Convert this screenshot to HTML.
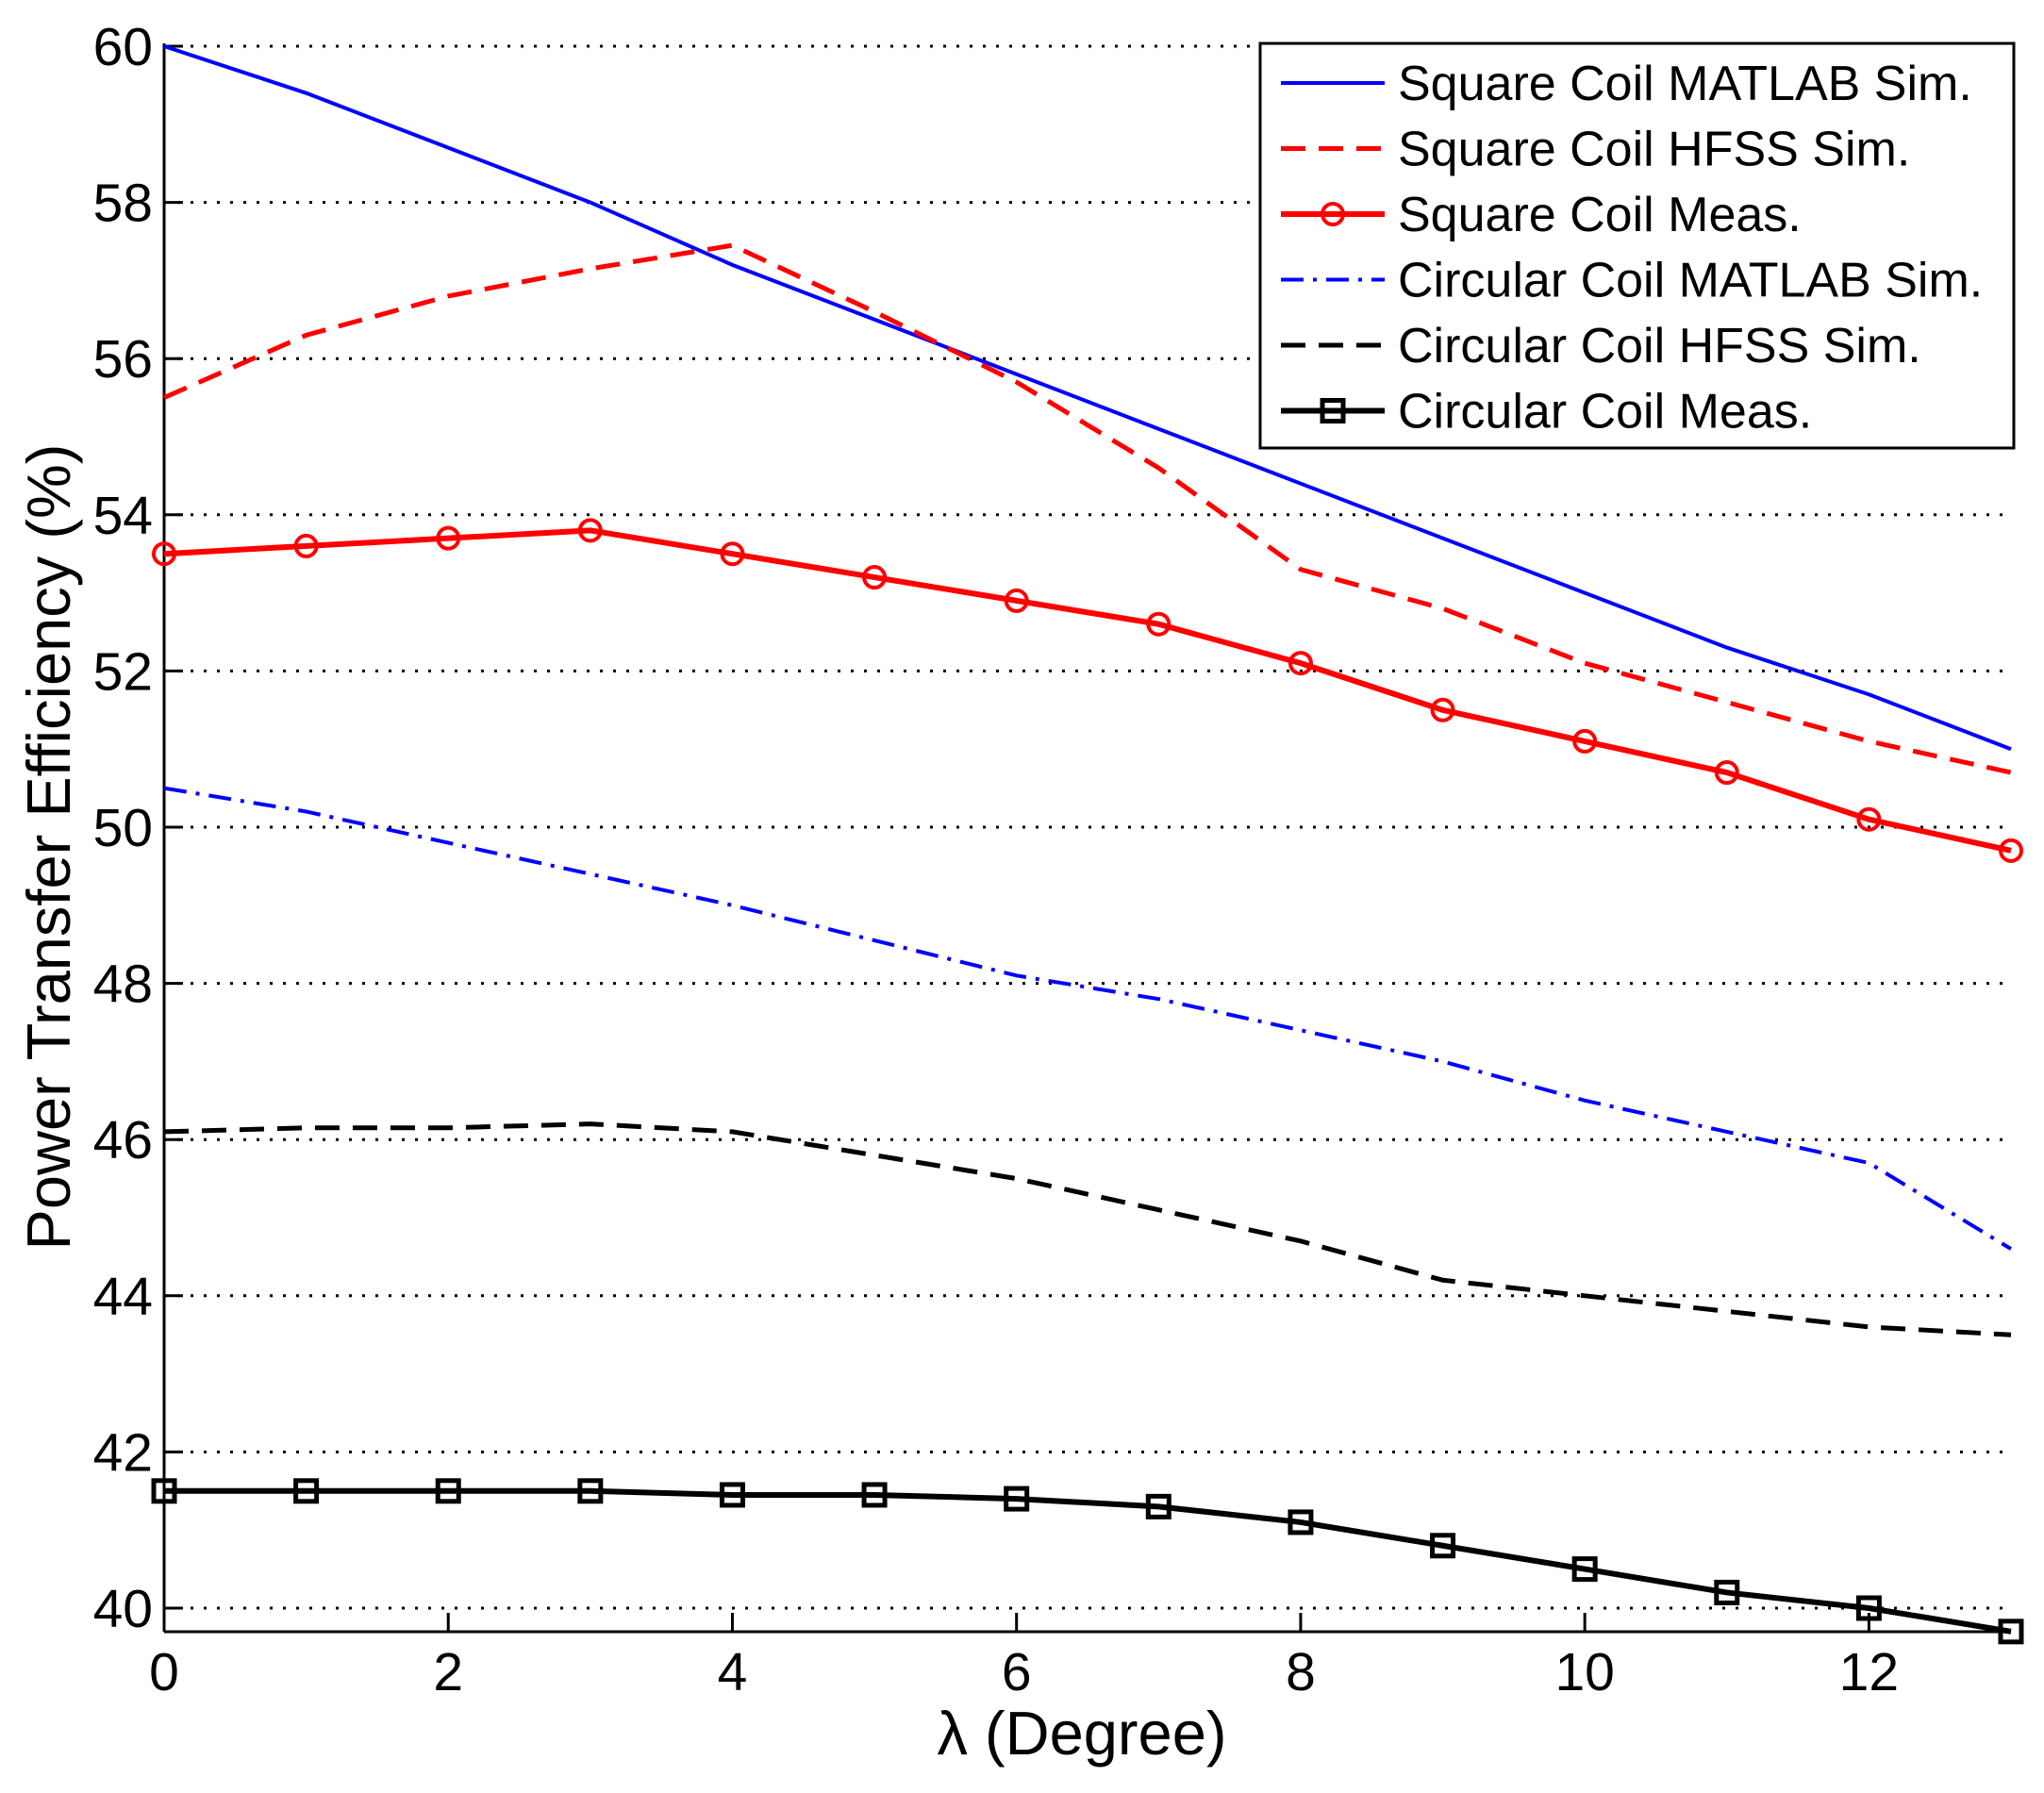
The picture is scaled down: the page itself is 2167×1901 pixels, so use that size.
<!DOCTYPE html>
<html><head><meta charset="utf-8"><style>
html,body{margin:0;padding:0;background:#fff;}
svg text{font-family:"Liberation Sans",Arial,sans-serif;fill:#000;}
</style></head><body>
<svg id="chart" width="2167" height="1896" viewBox="0 0 2167 1896" xmlns="http://www.w3.org/2000/svg">
<g id="grid"></g>
<g id="axes"></g>
<g id="series"></g>
<g id="legend"></g>
</svg>
<script>
const xValues=[0,1,2,3,4,5,6,7,8,9,10,11,12,13];
const sqMatlab=[60,59.4,58.7,58.0,57.2,56.5,55.8,55.1,54.4,53.7,53.0,52.3,51.7,51.0];
const sqHfss=[55.5,56.3,56.8,57.15,57.45,56.6,55.7,54.6,53.3,52.8,52.1,51.6,51.1,50.7];
const sqMeas=[53.5,53.6,53.7,53.8,53.5,53.2,52.9,52.6,52.1,51.5,51.1,50.7,50.1,49.7];
const cirMatlab=[50.5,50.2,49.8,49.4,49.0,48.55,48.1,47.8,47.4,47.0,46.5,46.1,45.7,44.6];
const cirHfss=[46.1,46.15,46.15,46.2,46.1,45.8,45.5,45.1,44.7,44.2,44.0,43.8,43.6,43.5];
const cirMeas=[41.5,41.5,41.5,41.5,41.45,41.45,41.4,41.3,41.1,40.8,40.5,40.2,40.0,39.7];
const yTicks=[40,42,44,46,48,50,52,54,56,58,60];
const xTicks=[0,2,4,6,8,10,12];
const legendLabels=["Square Coil MATLAB Sim.","Square Coil HFSS Sim.","Square Coil Meas.","Circular Coil MATLAB Sim.","Circular Coil HFSS Sim.","Circular Coil Meas."];

const NS="http://www.w3.org/2000/svg";
const X0=174,X1=2132,YT=49,YB=1730;
const xs=v=>X0+(v-0)/(13-0)*(X1-X0);
const ys=v=>49+(60-v)*82.8;
function mk(tag,attrs,parent){const e=document.createElementNS(NS,tag);for(const k in attrs)e.setAttribute(k,attrs[k]);parent.appendChild(e);return e;}
const grid=document.getElementById('grid'),axes=document.getElementById('axes'),series=document.getElementById('series'),legend=document.getElementById('legend');

yTicks.forEach(t=>{
  const g=mk('line',{x1:X0,x2:X1,y1:ys(t),y2:ys(t),stroke:'#000','stroke-width':3,'stroke-dasharray':'3 11'},grid);
  
  
  const tk=mk('line',{x1:X0,x2:X0+20,y1:ys(t),y2:ys(t),stroke:'#000','stroke-width':3},axes);
  
  
  const tx=mk('text',{x:X0-12,y:ys(t)+20,'text-anchor':'end','font-size':57},axes);
  tx.textContent=t;
  
  
});
xTicks.forEach(t=>{
  const tk=mk('line',{x1:xs(t),x2:xs(t),y1:YB,y2:YB-20,stroke:'#000','stroke-width':3},axes);
  
  
  const tx=mk('text',{x:xs(t),y:YB+62,'text-anchor':'middle','font-size':57},axes);
  tx.textContent=t;
  
  
});
const ya=mk('line',{x1:X0,x2:X0,y1:YT-3,y2:YB,stroke:'#000','stroke-width':3},axes);


const xa=mk('line',{x1:X0,x2:X1,y1:YB,y2:YB,stroke:'#000','stroke-width':3},axes);


const yl=mk('text',{x:0,y:0,'text-anchor':'middle','font-size':65,transform:'translate(74,898) rotate(-90)'},axes);
yl.textContent='Power Transfer Efficiency (%)';


const xl=mk('text',{x:1147,y:1860,'text-anchor':'middle','font-size':65},axes);
xl.textContent='λ (Degree)';



const styles=[
 {d:sqMatlab,c:'#0000ff',w:4,dash:'',m:null,n:'square-matlab-line'},
 {d:sqHfss,c:'#ff0000',w:5,dash:'26 14',m:null,n:'square-hfss-line'},
 {d:sqMeas,c:'#ff0000',w:6,dash:'',m:'o',n:'square-meas-line'},
 {d:cirMatlab,c:'#0000ff',w:4,dash:'24 10 4 10',m:null,n:'circular-matlab-line'},
 {d:cirHfss,c:'#000000',w:5,dash:'26 14',m:null,n:'circular-hfss-line'},
 {d:cirMeas,c:'#000000',w:6,dash:'',m:'s',n:'circular-meas-line'}
];
function marker(type,x,y,c,parent){
  let e;
  if(type==='o') e=mk('circle',{cx:x,cy:y,r:11,fill:'none',stroke:c,'stroke-width':4},parent);
  else e=mk('rect',{x:x-11,y:y-11,width:22,height:22,fill:'none',stroke:c,'stroke-width':5},parent);
  return e;
}
styles.forEach(s=>{
  const pts=xValues.map((x,i)=>xs(x)+','+ys(s.d[i])).join(' ');
  const p=mk('polyline',{points:pts,fill:'none',stroke:s.c,'stroke-width':s.w,'stroke-dasharray':s.dash},series);
  
  
  if(s.m) xValues.forEach((x,i)=>{
    const mm=marker(s.m,xs(x),ys(s.d[i]),s.c,series);
    
    
  });
});

const lb=mk('rect',{x:1336,y:46,width:799,height:429,fill:'#fff',stroke:'#000','stroke-width':3},legend);


legendLabels.forEach((lab,i)=>{
  const y=88+i*69.5, s=styles[i];
  const ln=mk('line',{x1:1358,x2:1468,y1:y,y2:y,stroke:s.c,'stroke-width':s.w,'stroke-dasharray':s.dash},legend);
  
  
  if(s.m){const mm=marker(s.m,1413,y,s.c,legend);
    
    }
  const t=mk('text',{x:1482,y:y+18,'font-size':52,textLength:lab.length>20?0:null},legend);
  if(t.getAttribute('textLength')==='null'||t.getAttribute('textLength')==='0')t.removeAttribute('textLength');
  t.textContent=lab;
  
  
});
</script>
</body></html>
